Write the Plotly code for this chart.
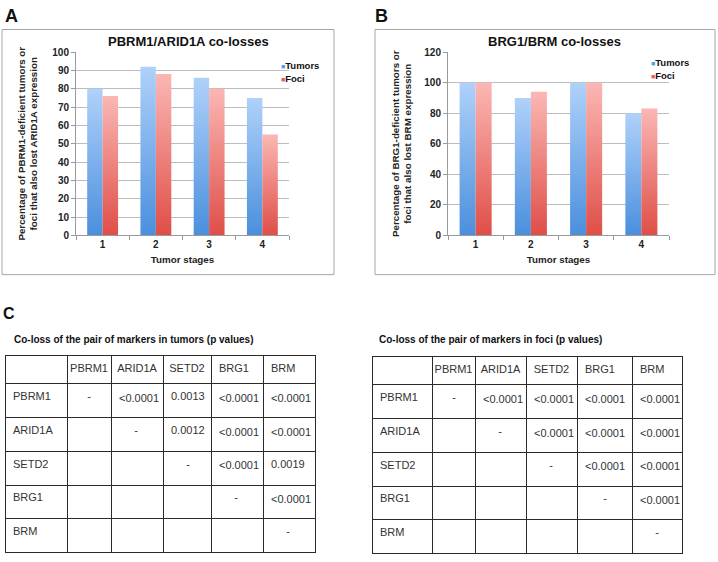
import plotly.graph_objects as go

# ---------------- data ----------------
stages = ["1", "2", "3", "4"]
series_names = ["Tumors", "Foci"]

a_tumors = [80, 92, 86, 75]
a_foci = [76, 88, 80, 55]
b_tumors = [100, 90, 100, 80]
b_foci = [100, 94, 100, 83]

markers = ["PBRM1", "ARID1A", "SETD2", "BRG1", "BRM"]
tumor_p = [
    ["-", "<0.0001", "0.0013", "<0.0001", "<0.0001"],
    ["", "-", "0.0012", "<0.0001", "<0.0001"],
    ["", "", "-", "<0.0001", "0.0019"],
    ["", "", "", "-", "<0.0001"],
    ["", "", "", "", "-"],
]
foci_p = [
    ["-", "<0.0001", "<0.0001", "<0.0001", "<0.0001"],
    ["", "-", "<0.0001", "<0.0001", "<0.0001"],
    ["", "", "-", "<0.0001", "<0.0001"],
    ["", "", "", "-", "<0.0001"],
    ["", "", "", "", "-"],
]

# ---------------- style ----------------
W, H = 718, 562
FONT = "Liberation Sans, Arial, Helvetica, sans-serif"
BAR_W = 0.29
GRAD = {
    "Tumors": ("#4a8fdd", "#b0d1fa"),
    "Foci": ("#df4e47", "#fbb7b4"),
}
LEG_COL = {"Tumors": "#5b9be6", "Foci": "#e6605a"}
HEADER_ALIGN = ["left", "center", "center", "center", "left", "left"]


def px(x):
    return x / W


def py(y):
    return 1 - y / H


fig = go.Figure()


def add_bars(values, name, xa, ya):
    dark, light = GRAD[name]
    off = -BAR_W if name == "Tumors" else 0.0
    for i, v in enumerate(values):
        x0 = i + off
        fig.add_trace(go.Scatter(
            x=[x0, x0, x0 + BAR_W, x0 + BAR_W, x0],
            y=[0, v, v, 0, 0],
            mode="lines", fill="toself",
            fillgradient=dict(type="vertical", colorscale=[[0, dark], [1, light]]),
            line=dict(width=0),
            showlegend=False, hoverinfo="skip",
            xaxis=xa, yaxis=ya,
        ))


add_bars(a_tumors, "Tumors", "x", "y")
add_bars(a_foci, "Foci", "x", "y")
add_bars(b_tumors, "Tumors", "x2", "y2")
add_bars(b_foci, "Foci", "x2", "y2")


# ---------------- tables ----------------
def add_table(pvals, colwidths, dom_x, dom_y):
    cols = [list(markers)]
    for j in range(len(markers)):
        col = []
        npad = max(0, int(round((colwidths[j + 1] / 2 - 10) / 3.06)))
        for row in pvals:
            v = row[j]
            col.append("\u00a0" * npad + v if v == "-" else v)
        cols.append(col)
    fig.add_trace(go.Table(
        domain=dict(x=dom_x, y=dom_y),
        columnwidth=colwidths,
        header=dict(
            values=[""] + markers,
            align=HEADER_ALIGN,
            height=28,
            line=dict(color="#2a2a2a", width=1),
            fill=dict(color="white"),
            font=dict(family=FONT, size=11, color="#333333"),
        ),
        cells=dict(
            values=cols,
            align="left",
            height=33.7,
            line=dict(color="#2a2a2a", width=1),
            fill=dict(color="white"),
            font=dict(family=FONT, size=11, color="#333333"),
        ),
    ))


add_table(tumor_p, [62, 44, 52, 48, 52, 52], [px(5), px(315)], [0, py(358)])
add_table(foci_p, [60, 43, 51, 51, 55, 50], [px(372), px(682)], [0, py(359)])

# ---------------- axes ----------------
tickfont = dict(family=FONT, size=10, color="#222222", weight="bold")
titlefont = dict(family=FONT, size=9.8, color="#222222", weight="bold")
bounds = [i - 0.5 for i in range(len(stages) + 1)]


def xaxis_cfg(dom):
    return dict(
        domain=dom, range=[-0.5, len(stages) - 0.5],
        tickmode="array", tickvals=list(range(len(stages))), ticktext=stages,
        ticks="", showgrid=False, zeroline=False,
        showline=True, linecolor="#9a9a9a", linewidth=1,
        tickfont=tickfont,
        minor=dict(tickmode="array", tickvals=bounds, ticks="outside",
                   ticklen=4, tickcolor="#9a9a9a", showgrid=False),
        title=dict(text="Tumor stages", font=titlefont, standoff=6),
        fixedrange=True,
    )


def yaxis_cfg(dom, rng, dtick, title, anchor, standoff):
    return dict(
        domain=dom, range=rng, dtick=dtick, anchor=anchor,
        showgrid=True, gridcolor="#bdbdbd", gridwidth=1,
        zeroline=False, showline=True, linecolor="#9a9a9a", linewidth=1,
        ticks="outside", ticklen=4, tickcolor="#9a9a9a",
        tickfont=tickfont,
        title=dict(text=title, font=titlefont, standoff=standoff),
        fixedrange=True,
    )


ydom = [py(235), py(48)]
fig.update_layout(
    xaxis=dict(xaxis_cfg([px(76), px(289)]), anchor="y"),
    yaxis=yaxis_cfg(ydom, [0, 100], 10,
                    "Percentage of PBRM1-deficient tumors or<br>foci that also lost ARID1A expression", "x", 12),
    xaxis2=dict(xaxis_cfg([px(448), px(669)]), anchor="y2"),
    yaxis2=yaxis_cfg(ydom, [0, 120], 20,
                     "Percentage of BRG1-deficient tumors or<br>foci that also lost BRM expression", "x2", 10),
)

# ---------------- annotations ----------------
ann = []


def add_text(x, y, text, size, xanchor="center", bold=True, color="#111111"):
    ann.append(dict(
        x=px(x), y=py(y), xref="paper", yref="paper", text=text,
        showarrow=False, xanchor=xanchor, yanchor="middle",
        font=dict(family=FONT, size=size, color=color, weight="bold" if bold else "normal"),
    ))


add_text(11, 11, "A", 18)
add_text(381, 11, "B", 18)
add_text(9, 315, "C", 16)
add_text(188, 37, "PBRM1/ARID1A co-losses", 13)
add_text(554, 37, "BRG1/BRM co-losses", 13)


def legend_items(x, y0, dy):
    for k, name in enumerate(series_names):
        text = '<span style="font-size:7px;color:%s">■</span>%s' % (LEG_COL[name], name)
        add_text(x, y0 + k * dy, text, 9.5, xanchor="left", color="#111111")


legend_items(279, 62, 13)
legend_items(649, 59, 13)

add_text(12, 341, "Co-loss of the pair of markers in tumors (p values)", 10, xanchor="left")
add_text(377, 341, "Co-loss of the pair of markers in foci (p values)", 10, xanchor="left")

# ---------------- panel frames ----------------
shapes = [
    dict(type="rect", xref="paper", yref="paper",
         x0=px(2), x1=px(334), y0=py(275), y1=py(25),
         line=dict(color="#a6a6a6", width=1)),
    dict(type="rect", xref="paper", yref="paper",
         x0=px(375), x1=px(715), y0=py(275), y1=py(25),
         line=dict(color="#a6a6a6", width=1)),
]

fig.update_layout(
    width=W, height=H,
    margin=dict(l=0, r=0, t=0, b=0),
    paper_bgcolor="white", plot_bgcolor="white",
    showlegend=False,
    annotations=ann, shapes=shapes,
    font=dict(family=FONT),
)

fig.write_html(
    "out.html",
    config={"displayModeBar": False},
    post_script="document.body.style.margin='0';document.body.style.overflow='hidden';",
)
